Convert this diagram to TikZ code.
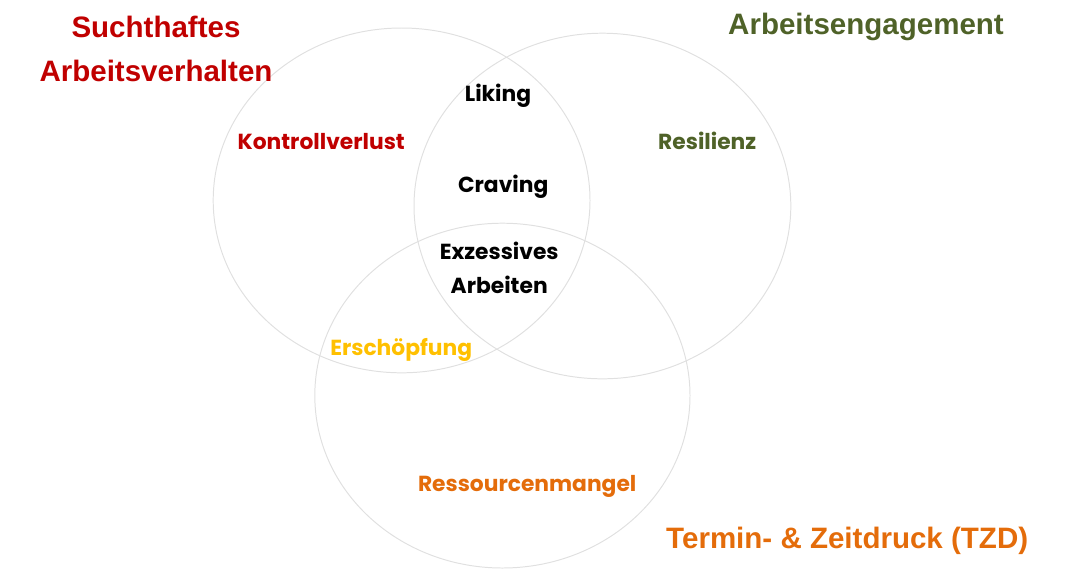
\documentclass[tikz,border=0pt]{standalone}
\usepackage{fontspec}
\setmainfont{Liberation Sans}
\newfontfamily\vennfont{Poppins}
\usepackage{tikz}
\usetikzlibrary{positioning}
\definecolor{suchtred}{HTML}{C00000}
\definecolor{engagegreen}{HTML}{4F6228}
\definecolor{tzdorange}{HTML}{E46C0A}
\definecolor{erschyellow}{HTML}{FFC000}
\definecolor{ringgray}{HTML}{E0E0E0}
\tikzset{
  ring/.style={draw=ringgray, line width=0.7pt},
  title/.style={font=\fontsize{21}{25}\selectfont\bfseries, align=center},
  inlabel/.style={font=\vennfont\fontsize{15.5}{24}\selectfont\bfseries, align=center}
}

\begin{document}
\begin{tikzpicture}
\useasboundingbox (0,0) rectangle (27,-14.45);
%%%%% Circles %%%%%
\draw[ring] (10.04,-5.01) ellipse [x radius=4.71, y radius=4.31];
\draw[ring] (15.06,-5.15) ellipse [x radius=4.71, y radius=4.32];
\draw[ring] (12.56,-9.89) ellipse [x radius=4.69, y radius=4.31];
%%%%% Titles %%%%%
\node[title, text=suchtred] (sucht) at (3.9,-1.22) {Suchthaftes\\[6pt]Arbeitsverhalten};
\node[title, text=engagegreen] (engage) at (21.65,-0.68) {Arbeitsengagement};
\node[title, text=tzdorange] (tzd) at (21.18,-13.52) {Termin- \& Zeitdruck (TZD)};
%%%%% Labels %%%%%
\node[inlabel, text=black] (liking) at (12.45,-2.4) {Liking};
\node[inlabel, text=suchtred] (kontroll) at (8.03,-3.55) {Kontrollverlust};
\node[inlabel, text=engagegreen] (resil) at (17.68,-3.53) {Resilienz};
\node[inlabel, text=black] (craving) at (12.58,-4.67) {Craving};
\node[inlabel, text=black] (exzess) at (12.48,-6.7) {Exzessives\\Arbeiten};
\node[inlabel, text=erschyellow] (ersch) at (10.03,-8.75) {Erschöpfung};
\node[inlabel, text=tzdorange] (ressource) at (13.18,-12.15) {Ressourcenmangel};
\end{tikzpicture}
\end{document}
